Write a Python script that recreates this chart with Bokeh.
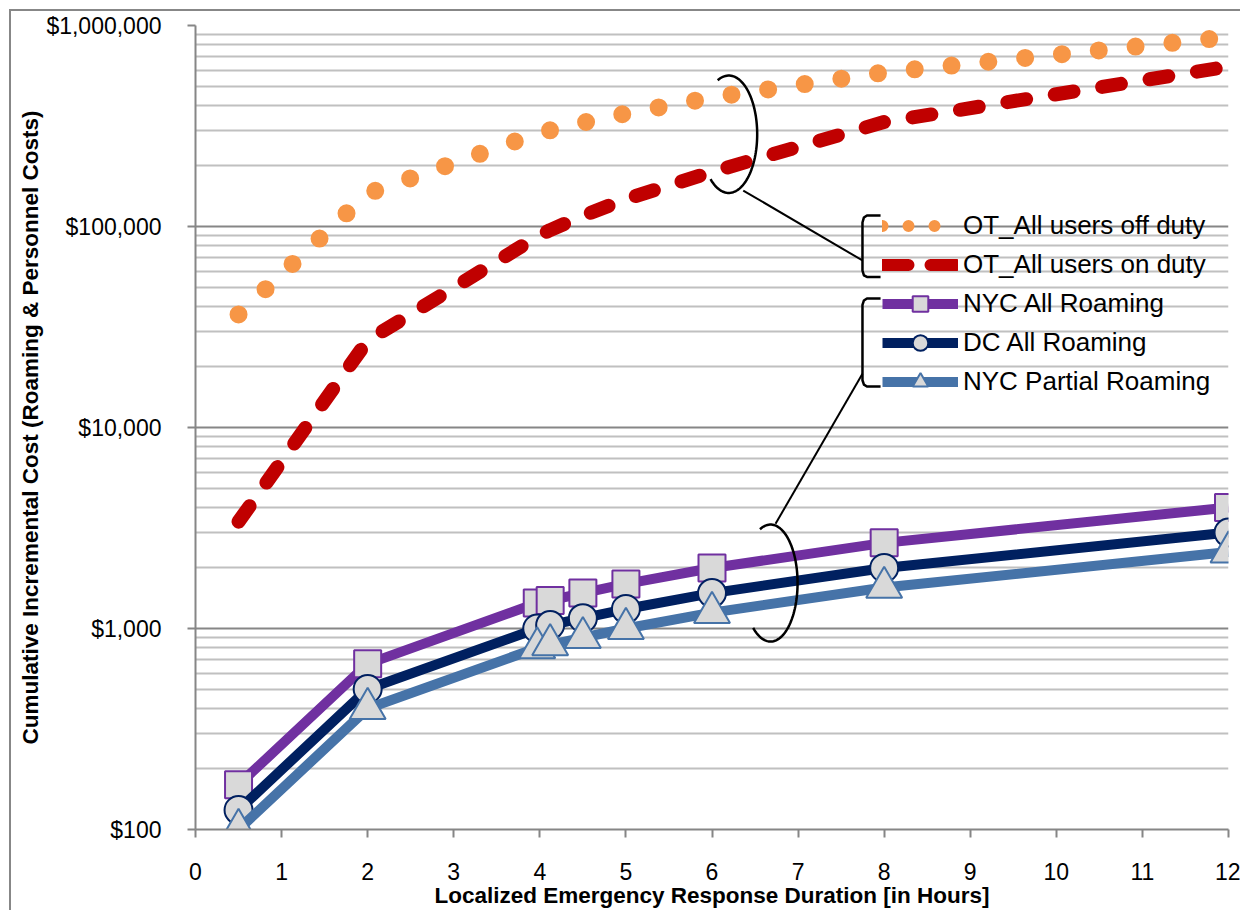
import numpy as np
from bokeh.plotting import figure
from bokeh.models import Range1d, FixedTicker, NumeralTickFormatter, Legend, LegendItem
from bokeh.embed import file_html
from bokeh.resources import INLINE

# ---------------- data ----------------
hours = [0.5, 2, 3.97, 4.12, 4.5, 5, 6, 8, 12]
ot_off_duty = [36500, 146000, 290000, 301000, 328500, 365000, 438000, 584000, 876000]
ot_on_duty = [3400, 27100, 89000, 96000, 113000, 136800, 187000, 331000, 625000]
nyc_all = [167, 667, 1340, 1380, 1500, 1667, 2000, 2667, 4000]
dc_all = [125, 500, 1000, 1040, 1125, 1250, 1500, 2000, 3000]
nyc_partial = [100, 400, 800, 830, 900, 1000, 1200, 1600, 2400]

x_ticks = list(range(0, 13))
y_ticks = [100, 1000, 10000, 100000, 1000000]

names = ["OT_All users off duty", "OT_All users on duty", "NYC All Roaming",
         "DC All Roaming", "NYC Partial Roaming"]

FONT = "Liberation Sans"

p = figure(width=1240, height=910, x_range=Range1d(0, 12), y_range=Range1d(100, 1e6),
           y_axis_type="log", output_backend="svg", toolbar_location=None,
           min_border_left=195, min_border_right=12, min_border_top=25, min_border_bottom=81)
p.outline_line_color = None
p.background_fill_color = "white"
p.border_fill_color = None
# outer chart border: only its top and left edges fall inside the window
p.styles = {
    "background-color": "white",
    "background-image": "linear-gradient(#878787, #878787), linear-gradient(#878787, #878787)",
    "background-size": "100% 2px, 2px 100%",
    "background-position": "9px 9px, 9px 9px",
    "background-repeat": "no-repeat",
}

# ticks & grid
xt = FixedTicker(ticks=x_ticks)
yt = FixedTicker(ticks=y_ticks,
                 minor_ticks=[m * 10 ** k for k in range(2, 6) for m in range(2, 10)])
p.xaxis.ticker = xt
p.xgrid.ticker = xt
p.yaxis.ticker = yt
p.ygrid.ticker = yt
p.xgrid.grid_line_color = None
p.ygrid.grid_line_color = "#868686"
p.ygrid.grid_line_width = 2
p.ygrid.minor_grid_line_color = "#c0c0c0"
p.ygrid.minor_grid_line_width = 2

p.yaxis.formatter = NumeralTickFormatter(format="$0,0")
for ax in (p.xaxis, p.yaxis):
    ax.axis_line_color = "#868686"
    ax.axis_line_width = 2
    ax.major_tick_line_color = "#868686"
    ax.major_tick_line_width = 2
    ax.major_tick_out = 8
    ax.major_tick_in = 0
    ax.minor_tick_line_color = None
    ax.major_label_text_font = FONT
    ax.major_label_text_font_size = "23px"
    ax.major_label_text_color = "black"
    ax.axis_label_text_font = FONT
    ax.axis_label_text_font_size = "22.5px"
    ax.axis_label_text_font_style = "bold"
    ax.axis_label_text_color = "black"
    ax.axis_label_standoff = 0
p.xaxis.major_label_standoff = 25
p.yaxis.major_label_standoff = 26
p.xaxis.axis_label = "Localized Emergency Response Duration [in Hours]"
p.yaxis.axis_label = "Cumulative Incremental Cost (Roaming & Personnel Costs)"

# ---------------- series ----------------
r_off = p.line(hours, ot_off_duty, line_color="#F79646", line_width=18,
               line_dash="0 37", line_cap="round")
r_on = p.line(hours, ot_on_duty, line_color="#C00000", line_width=14,
              line_dash="19 29", line_cap="round")

r_nyc_l = p.line(hours, nyc_all, line_color="#7030A0", line_width=10, line_join="round")
r_nyc_m = p.scatter(hours, nyc_all, marker="square", size=27, fill_color="#D9D9D9",
                    line_color="#7030A0", line_width=2)
r_dc_l = p.line(hours, dc_all, line_color="#002060", line_width=10, line_join="round")
r_dc_m = p.scatter(hours, dc_all, marker="circle", size=28, fill_color="#D9D9D9",
                   line_color="#002060", line_width=2)
r_np_l = p.line(hours, nyc_partial, line_color="#4673A8", line_width=10, line_join="round")
r_np_m = p.scatter(hours, nyc_partial, marker="triangle", size=36, fill_color="#D9D9D9",
                   line_color="#4673A8", line_width=2)

# legend-only samples for the dotted / dashed series (a single NaN point: nothing drawn)
lg_off = p.line([np.nan], [np.nan], line_color="#F79646", line_width=12, line_dash="0 26",
                line_cap="round")
lg_on = p.line([np.nan], [np.nan], line_color="#C00000", line_width=12, line_dash="26 22",
               line_cap="round")

# ---------------- callout annotations (hours, log10 $) ----------------
t = np.radians(np.linspace(113, -130, 90))


def arc(h0, l0, rh, rl):
    return list(h0 + rh * np.cos(t)), list(10 ** (l0 + rl * np.sin(t)))


ax1, ay1 = arc(6.195, 5.459, 0.33, 0.292)
ax2, ay2 = arc(6.68, 3.226, 0.314, 0.291)
p.line(ax1, ay1, line_color="black", line_width=2.5)
p.line(ax2, ay2, line_color="black", line_width=2.5)


def pw(ls):
    return [10 ** v for v in ls]


p.line([6.363, 7.748], pw([5.179, 4.831]), line_color="black", line_width=2)
p.line([6.738, 7.748], pw([3.521, 4.267]), line_color="black", line_width=2)

bx = [7.958, 7.80, 7.765, 7.748, 7.748, 7.765, 7.80, 7.958]
p.line(bx, pw([5.055, 5.055, 5.045, 5.02, 4.78, 4.757, 4.749, 4.749]),
       line_color="black", line_width=2.5, line_join="round")
p.line(bx, pw([4.642, 4.642, 4.632, 4.61, 4.235, 4.213, 4.204, 4.204]),
       line_color="black", line_width=2.5, line_join="round")

# ---------------- legend ----------------
legend = Legend(items=[
    LegendItem(label=names[0], renderers=[lg_off]),
    LegendItem(label=names[1], renderers=[lg_on]),
    LegendItem(label=names[2], renderers=[r_nyc_l, r_nyc_m]),
    LegendItem(label=names[3], renderers=[r_dc_l, r_dc_m]),
    LegendItem(label=names[4], renderers=[r_np_l, r_np_m]),
], location=(687, 428), glyph_width=76, glyph_height=39, label_height=39,
    spacing=0, padding=0, margin=0, label_standoff=5,
    border_line_color=None, background_fill_alpha=0,
    label_text_font=FONT, label_text_font_size="26px", label_text_color="black")
p.add_layout(legend)

open("out.html", "w").write(file_html(p, INLINE))
